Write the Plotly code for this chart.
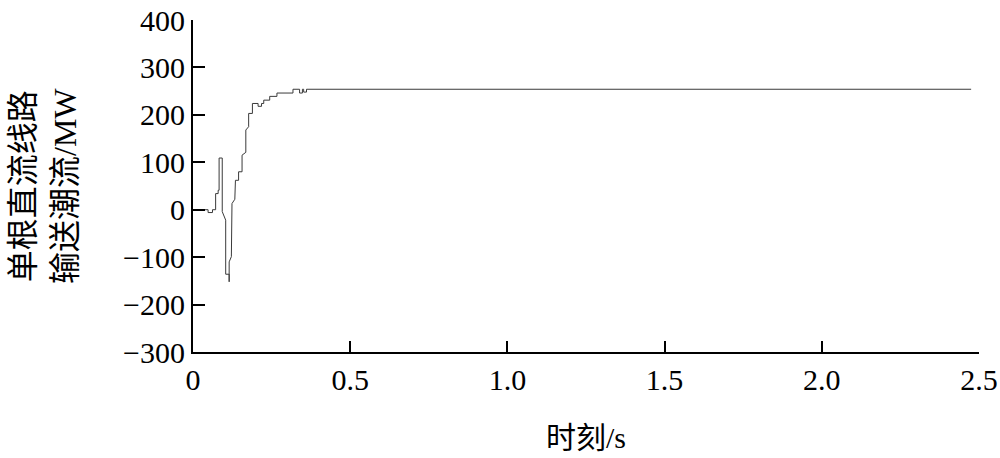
import plotly.graph_objects as go

# Time (s) and single DC line power flow (MW)
time_s = [0.000, 0.048, 0.048, 0.062, 0.062, 0.072, 0.072, 0.080, 0.080, 0.083, 0.083,
          0.093, 0.093, 0.104, 0.104, 0.115, 0.115, 0.115, 0.122, 0.124, 0.133, 0.135,
          0.145, 0.145, 0.156, 0.156, 0.168, 0.168, 0.177, 0.177, 0.189, 0.189,
          0.207, 0.207, 0.218, 0.218, 0.225, 0.225, 0.244, 0.244, 0.267, 0.267,
          0.318, 0.318, 0.339, 0.339, 0.348, 0.348, 0.352, 0.352, 0.361, 0.361, 2.475]
power_mw = [0, 0, -6, -6, 0, 0, 34, 34, 41, 41, 109,
            109, -4, -22, -136, -136, -152, -110, -99, 13, 22, 62,
            62, 80, 80, 115, 121, 168, 175, 203, 203, 224,
            224, 218, 218, 224, 224, 231, 231, 239, 239, 246,
            246, 254, 254, 246, 246, 254, 254, 248, 248, 254, 254]

x_ticks = [0, 0.5, 1.0, 1.5, 2.0, 2.5]
x_tick_text = ["0", "0.5", "1.0", "1.5", "2.0", "2.5"]
y_ticks = [-300, -200, -100, 0, 100, 200, 300, 400]

x_title = "时刻/s"
y_title = "单根直流线路<br>输送潮流/MW"

font_family = "Liberation Serif, Times New Roman, Noto Sans CJK SC"

fig = go.Figure()
fig.add_trace(go.Scatter(
    x=time_s, y=power_mw, mode="lines",
    line=dict(color="#3a3a3a", width=1),
    showlegend=False, hoverinfo="skip",
))

fig.update_layout(
    width=1000, height=458,
    margin=dict(l=193, r=21, t=20, b=106, autoexpand=False),
    paper_bgcolor="white", plot_bgcolor="white",
    font=dict(family=font_family, size=30, color="black"),
    showlegend=False,
    xaxis=dict(
        range=[0, 2.5], tickvals=x_ticks, ticktext=x_tick_text,
        showline=True, linecolor="black", linewidth=2,
        ticks="inside", ticklen=11, tickwidth=2, tickcolor="black",
        showgrid=False, zeroline=False, automargin=False,
        ticklabeloverflow="allow",
        tickfont=dict(family=font_family, size=30, color="black"),
    ),
    yaxis=dict(
        range=[-300, 400], tickvals=y_ticks,
        showline=True, linecolor="black", linewidth=2,
        ticks="inside", ticklen=12, tickwidth=2, tickcolor="black",
        showgrid=False, zeroline=False, automargin=False,
        ticklabeloverflow="allow",
        tickfont=dict(family=font_family, size=30, color="black"),
    ),
    annotations=[
        dict(text=x_title, xref="paper", yref="paper",
             x=0.5, y=(352 - 437) / 332, xanchor="center", yanchor="middle",
             showarrow=False,
             font=dict(family=font_family, size=30, color="black")),
        dict(text=y_title, xref="paper", yref="paper",
             x=(44 - 193) / 786, y=0.5, xanchor="center", yanchor="middle",
             textangle=-90, showarrow=False,
             font=dict(family=font_family, size=32, color="black")),
    ],
)

fig.write_html("out.html", config={"displayModeBar": False},
               post_script="document.body.style.margin='0';")
